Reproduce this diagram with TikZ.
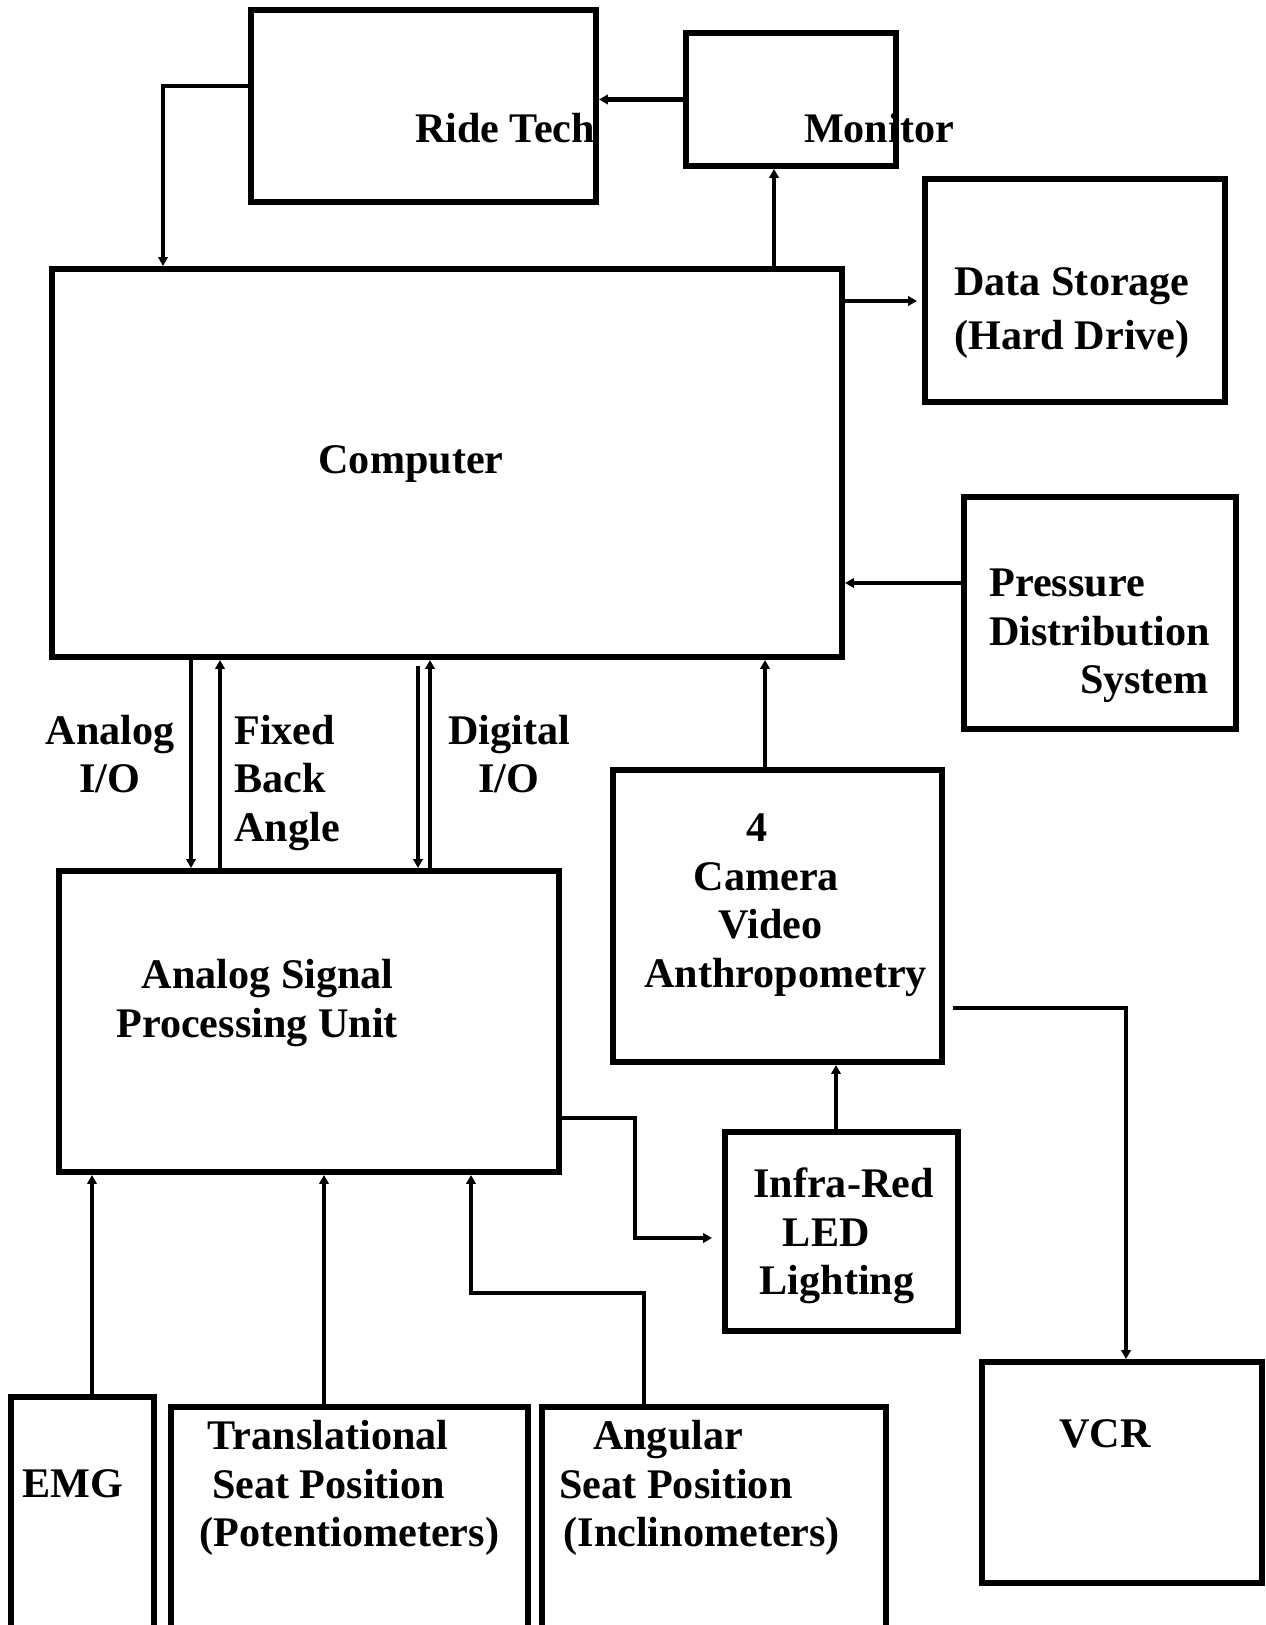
\documentclass[tikz,border=0pt]{standalone}
\usepackage{fontspec}
\setmainfont{Liberation Serif}
\usetikzlibrary{arrows.meta,fit}

\begin{document}
\begin{tikzpicture}[
    x=0.02cm, y=-0.02cm,
    box/.style={
        draw,
        line width=3.4pt,
        inner sep=0pt
    },
    txt/.style={
        font=\bfseries\fontsize{24pt}{27.7pt}\selectfont,
        inner sep=0pt
    },
    arrow/.style={-{Triangle[length=1.8mm,width=1.9mm]},line width=2.6pt}
]
\useasboundingbox (0,0) rectangle (1265,1625);

\node[box, fit={(251,10) (596,202)}] (ridetech) {};
\node[box, fit={(686,33) (896,166)}] (monitor) {};
\node[box, fit={(52,269) (842,657)}] (computer) {};
\node[box, fit={(925,179) (1225,402)}] (storage) {};
\node[box, fit={(964,497) (1236,729)}] (pressure) {};
\node[box, fit={(613,770) (942,1062)}] (camera) {};
\node[box, fit={(59,871) (559,1172)}] (aspu) {};
\node[box, fit={(725,1132) (958,1331)}] (infrared) {};
\node[box, fit={(982,1362) (1262,1583)}] (vcr) {};
\node[box, fit={(11,1397) (154,1700)}] (emg) {};
\node[box, fit={(171,1407) (528,1700)}] (trans) {};
\node[box, fit={(542,1407) (886,1700)}] (angular) {};

\node[txt] (ridetech-lbl) at (505,128) {Ride Tech};
\node[txt] (monitor-lbl) at (879,128) {Monitor};
\node[txt] (computer-lbl) at (411,464) {Computer};
\node[txt, align=center] (storage-lbl) at (1072,313) {Data Storage\\[0.12em](Hard Drive)};
\node[txt, align=left, anchor=west] (pressure-lbl) at (989,636) {Pressure\\Distribution\\\hspace*{2.15em}System};
\node[txt, align=left, anchor=west] (camera-lbl) at (644,905) {\hspace*{2.43em}4\\\hspace*{1.17em}Camera\\\hspace*{1.76em}Video\\Anthropometry};
\node[txt, align=left, anchor=west] (aspu-lbl) at (116,1003) {\hspace*{0.6em}Analog Signal\\Processing Unit};
\node[txt, align=left, anchor=west] (infrared-lbl) at (753,1236) {Infra-Red\\\hspace*{0.7em}LED\\\hspace*{0.15em}Lighting};
\node[txt] (vcr-lbl) at (1105,1434) {VCR};
\node[txt] (emg-lbl) at (73,1484) {EMG};
\node[txt, align=left, anchor=west] (trans-lbl) at (199,1488) {\hspace*{0.2em}Translational\\\hspace*{0.3em}Seat Position\\(Potentiometers)};
\node[txt, align=left, anchor=west] (angular-lbl) at (559,1488) {\hspace*{0.8em}Angular\\Seat Position\\\hspace*{0.1em}(Inclinometers)};
\node[txt, align=center] (aio-lbl) at (110,754) {Analog\\I/O};
\node[txt, align=left, anchor=west] (fb-lbl) at (234,783) {Fixed\\Back\\Angle};
\node[txt, align=center] (dio-lbl) at (509,754) {Digital\\I/O};

\coordinate (rtbend) at (163,86);
\coordinate (monx) at (774,0);
\coordinate (stoy) at (0,301);
\coordinate (prsy) at (0,583);
\coordinate (aiox) at (191,0);
\coordinate (fbx) at (220,0);
\coordinate (dinx) at (418,0);
\coordinate (doutx) at (430,0);
\coordinate (camx) at (765,0);
\coordinate (irx) at (836,0);
\coordinate (vcrstart) at (953,1008);
\coordinate (vcrx) at (1126,0);
\coordinate (irbend) at (635,1118);
\coordinate (iry) at (0,1238);
\coordinate (emgx) at (92,0);
\coordinate (trx) at (324,0);
\coordinate (angbend) at (471,1293);
\coordinate (angx) at (644,0);

\draw[arrow] (monitor.west) -- (monitor.west -| ridetech.east);
\draw[arrow] (ridetech.west |- rtbend) -| (computer.north -| rtbend);
\draw[arrow] (computer.north -| monx) -- (monitor.south -| monx);
\draw[arrow, shorten >=1mm] (computer.east |- stoy) -- (storage.west |- stoy);
\draw[arrow] (pressure.west |- prsy) -- (computer.east |- prsy);

\draw[arrow] (computer.south -| aiox) -- (aspu.north -| aiox);
\draw[arrow] (aspu.north -| fbx) -- (computer.south -| fbx);
\draw[arrow, shorten <=1.2mm] (computer.south -| dinx) -- (aspu.north -| dinx);
\draw[arrow] (aspu.north -| doutx) -- (computer.south -| doutx);

\draw[arrow] (camera.north -| camx) -- (computer.south -| camx);
\draw[arrow] (infrared.north -| irx) -- (camera.south -| irx);
\draw[arrow] (vcrstart) -| (vcr.north -| vcrx);
\draw[arrow, shorten >=2mm] (aspu.east |- irbend) -- (irbend) |- (infrared.west |- iry);

\draw[arrow] (emg.north -| emgx) -- (aspu.south -| emgx);
\draw[arrow] (trans.north -| trx) -- (aspu.south -| trx);
\draw[arrow] (angular.north -| angx) |- (angbend) -- (aspu.south -| angbend);

\end{tikzpicture}
\end{document}
